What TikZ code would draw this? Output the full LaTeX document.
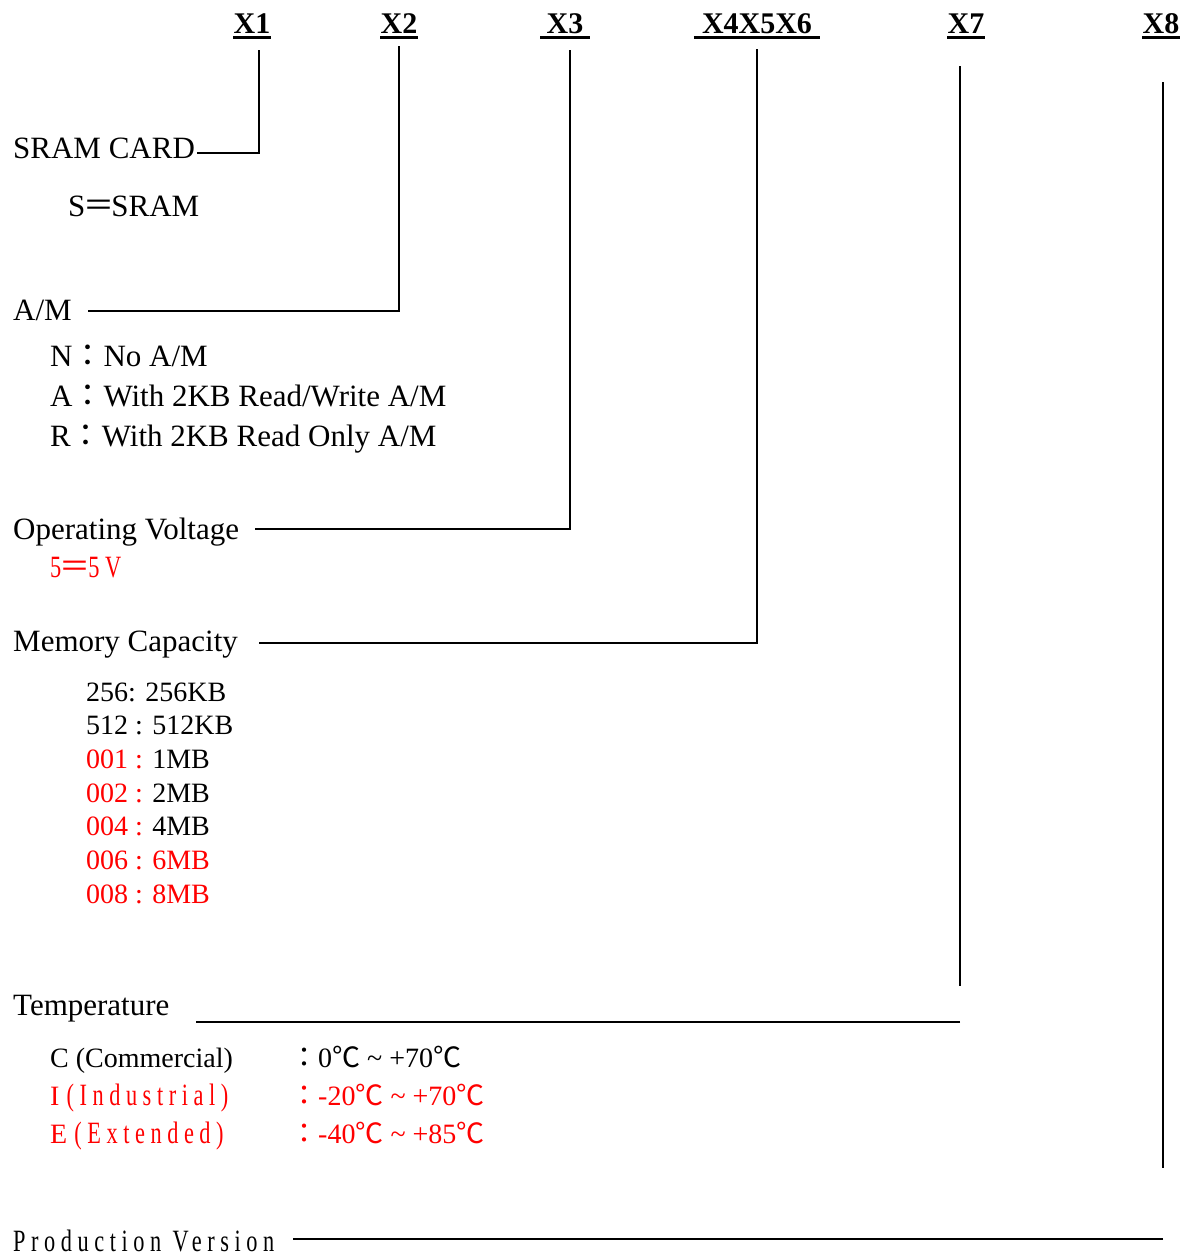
\documentclass[tikz,border=0pt]{standalone}
\usepackage{fontspec}
\setmainfont{Liberation Serif}
\newfontfamily\cjkfont{Noto Sans CJK TC}
\newfontfamily\thinfont[FakeStretch=0.72,LetterSpace=18]{Liberation Serif}
\usetikzlibrary{positioning}
\newcommand{\fcol}{{\cjkfont ：}}
\newcommand{\fuguale}{{\cjkfont ＝}}
\newcommand{\gradi}{{\cjkfont ℃}}

\begin{document}
\begin{tikzpicture}[x=1pt, y=-1pt,
    codice/.style={anchor=base, inner sep=0pt, font=\bfseries\fontsize{30}{36}\selectfont},
    testo/.style={anchor=base west, inner sep=0pt, font=\fontsize{31}{36}\selectfont},
    voce/.style={anchor=base west, inner sep=0pt, font=\fontsize{28}{34}\selectfont},
    sotto/.style={line width=3pt},
    filo/.style={line width=1.8pt}]
    \useasboundingbox (0,0) rectangle (1191,1256);

    % Codici in alto
    \node[codice] (x1) at (252,33) {X1};
    \node[codice] (x2) at (399,33) {X2};
    \node[codice, inner xsep=6pt] (x3) at (565,33) {X3};
    \node[codice, inner xsep=8pt] (x456) at (757,33) {X4X5X6};
    \node[codice] (x7) at (966,33) {X7};
    \node[codice] (x8) at (1161,33) {X8};
    \foreach \n in {x1,x2,x3,x456,x7,x8}
        \draw[sotto] ([yshift=-4pt]\n.south west) -- ([yshift=-4pt]\n.south east);

    % Voci
    \node[testo] (sram) at (13,158) {SRAM CARD};
    \node[testo] (sramS) at (68,216) {S\hspace{-2pt}\fuguale\hspace{-3pt}SRAM};

    \node[testo] (am) at (13,320) {A/M};
    \node[testo] (amN) at (50,366) {N\fcol No A/M};
    \node[testo] (amA) at (50,406) {A\fcol With 2KB Read/Write A/M};
    \node[testo] (amR) at (50,446) {R\fcol With 2KB Read Only A/M};

    \node[testo] (volt) at (13,539) {Operating Voltage};
    \node[testo, red] (volt5) at (50,577) {{\thinfont 5}\hspace{-2pt}\fuguale\hspace{-2pt}{\thinfont 5V}};

    \node[testo] (mem) at (13,651) {Memory Capacity};
    \foreach \y/\txt [count=\i] in {701/{256: 256KB}, 734/{512 : 512KB},
        768/{\textcolor{red}{001 :} 1MB}, 802/{\textcolor{red}{002 :} 2MB},
        835/{\textcolor{red}{004 :} 4MB}, 869/{\textcolor{red}{006 : 6MB}},
        903/{\textcolor{red}{008 : 8MB}}}
        \node[voce] (cap\i) at (86,\y) {\txt};

    \node[testo] (temp) at (13,1015) {Temperature};
    \node[voce] (tC) at (50,1067) {C (Commercial)};
    \node[voce] (tCv) at (290,1067) {\fcol 0\gradi\ \textasciitilde\ +70\gradi};
    \node[voce, red] (tI) at (50,1105) {I {\thinfont\fontsize{31}{36}\selectfont(Industrial)}};
    \node[voce, red] (tIv) at (290,1105) {\fcol -20\gradi\ \textasciitilde\ +70\gradi};
    \node[voce, red] (tE) at (50,1143) {E {\thinfont\fontsize{31}{36}\selectfont(Extended)}};
    \node[voce, red] (tEv) at (290,1143) {\fcol -40\gradi\ \textasciitilde\ +85\gradi};

    \node[voce, font=\thinfont\fontsize{31}{36}\selectfont] (prod) at (13,1251) {Production Version};

    % Linee di collegamento
    \coordinate (t1) at (259,50);   \coordinate (c1) at (259,153);
    \coordinate (t2) at (399,46);   \coordinate (c2) at (399,311);
    \coordinate (t3) at (570,50);   \coordinate (c3) at (570,529);
    \coordinate (t456) at (757,49); \coordinate (c456) at (757,643);
    \coordinate (t7) at (960,66);   \coordinate (b7) at (960,986);   \coordinate (c7) at (960,1022);
    \coordinate (t8) at (1163,82);  \coordinate (b8) at (1163,1168); \coordinate (c8) at (1163,1239);

    \draw[filo] (t1) -- (c1) -- ([xshift=2pt]sram.east |- c1);
    \draw[filo] (t2) -- (c2) -- ([xshift=16pt]am.east |- c2);
    \draw[filo] (t3) -- (c3) -- ([xshift=16pt]volt.east |- c3);
    \draw[filo] (t456) -- (c456) -- ([xshift=21pt]mem.east |- c456);
    \draw[filo] (t7) -- (b7);
    \draw[filo] (c7) -- ([xshift=26pt]temp.east |- c7);
    \draw[filo] (t8) -- (b8);
    \draw[filo] (c8) -- ([xshift=19pt]prod.east |- c8);

\end{tikzpicture}
\end{document}
